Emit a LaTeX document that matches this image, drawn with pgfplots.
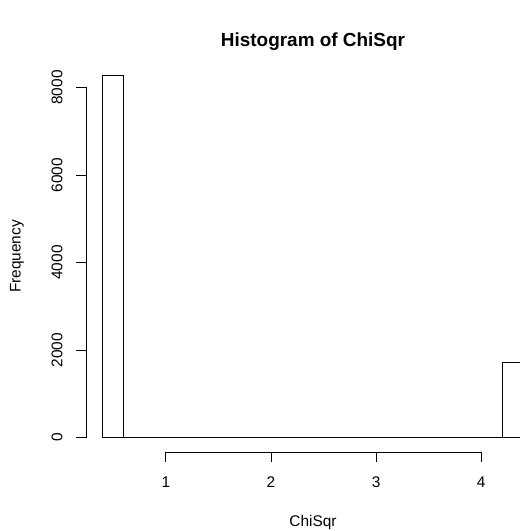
\documentclass[border=0pt]{standalone}
\usepackage{fontspec}
\setmainfont{Liberation Sans}
\usepackage{pgfplots}
\pgfplotsset{compat=1.18}
\begin{document}
\begin{tikzpicture}[x=1bp,y=1bp,font=\fontsize{15.5}{18}\selectfont]
\useasboundingbox (0,0) rectangle (520,531);
\clip (0,0) rectangle (520,531);
\begin{axis}[
    at={(86bp,79bp)}, anchor=south west,
    scale only axis, width=454bp, height=391bp,
    xmin=0.24, xmax=4.56, ymin=-331, ymax=8606,
    axis x line*=bottom, axis y line*=left,
    axis line style={draw=none},
    clip=false,
    xtick={1,2,3,4}, ytick={0,2000,4000,6000,8000},
    scaled ticks=false,
    /pgf/number format/assume math mode=true,
    /pgf/number format/set thousands separator={},
    tick align=outside, major tick length=10bp,
    tick style={black, line width=0.8bp},
    xticklabel style={anchor=center, yshift=-20bp},
    yticklabel style={rotate=90, anchor=center, yshift=19bp},
    title={Histogram of ChiSqr},
    title style={font=\fontsize{19}{22}\selectfont\bfseries,
        at={(axis description cs:0.5,1)}, anchor=base, yshift=9bp},
    xlabel={ChiSqr},
    xlabel style={at={(axis description cs:0.5,0)}, anchor=base, yshift=-74bp},
    ylabel={Frequency},
    ylabel style={at={(axis description cs:0,0.5)}, anchor=center, yshift=69bp},
]
\addplot[ybar interval, draw=black, fill=none, line width=0.8bp] coordinates {
    (0.4,8275) (0.6,0) (0.8,0) (1.0,0) (1.2,0) (1.4,0) (1.6,0) (1.8,0) (2.0,0)
    (2.2,0) (2.4,0) (2.6,0) (2.8,0) (3.0,0) (3.2,0) (3.4,0) (3.6,0) (3.8,0)
    (4.0,0) (4.2,1725) (4.4,0)
};
\draw[line width=0.8bp] (axis cs:1,-331) -- (axis cs:4,-331);
\draw[line width=0.8bp] (axis cs:0.24,0) -- (axis cs:0.24,8000);
\end{axis}
\end{tikzpicture}
\end{document}
